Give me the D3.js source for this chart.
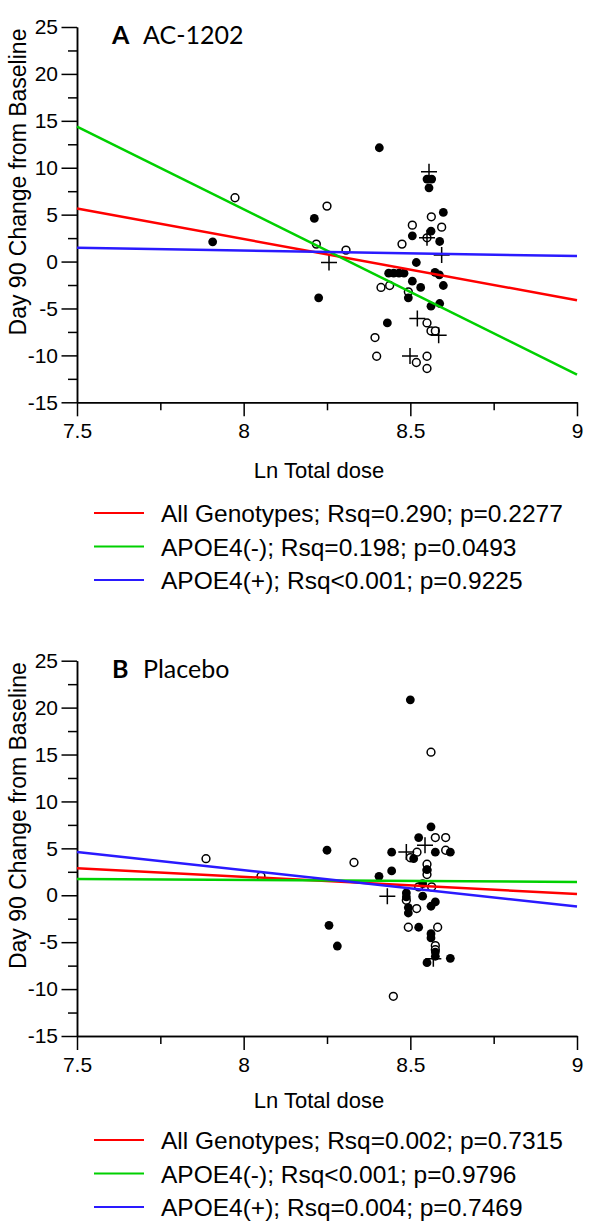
<!DOCTYPE html>
<html>
<head>
<meta charset="utf-8">
<script src="https://cdn.jsdelivr.net/npm/d3@7"></script>
<style>
	body { margin: 0; background: #fff; }
</style>
</head>
<body>
<div id="chart"></div>
<script>
// ticks
const xTicks = [7.5, 8, 8.5, 9];
const xMinor = [7.75, 8.25, 8.75];
const yTicks = [-15, -10, -5, 0, 5, 10, 15, 20, 25];
const yMinor = [-12.5, -7.5, -2.5, 2.5, 7.5, 12.5, 17.5, 22.5];

// A: AC-1202  [ln dose, change]
const acFilled = [
	[8.407, 12.13], [8.550, 8.79], [8.564, 8.79], [8.556, 7.86], [8.212, 4.60],
	[8.599, 5.24], [8.506, 2.74], [8.562, 3.24], [8.588, 2.14], [8.518, -0.10],
	[8.435, -1.24], [8.450, -1.24], [8.466, -1.24], [8.481, -1.24], [8.574, -1.16],
	[8.587, -1.42], [8.506, -2.09], [8.531, -2.76], [8.599, -2.55], [8.225, -3.87],
	[8.494, -3.87], [8.562, -4.76], [8.588, -4.47], [8.431, -6.54], [7.907, 2.10]
];
const acOpen = [
	[7.974, 6.80], [8.250, 5.91], [8.218, 1.86], [8.307, 1.22], [8.563, 4.77],
	[8.506, 3.88], [8.594, 3.67], [8.550, 2.53], [8.475, 1.86], [8.412, -2.76],
	[8.438, -2.55], [8.494, -3.23], [8.550, -6.54], [8.562, -7.39], [8.575, -7.39],
	[8.394, -8.10], [8.399, -10.09], [8.518, -10.76], [8.550, -10.09], [8.550, -11.40]
];
const acCross = [
	[8.556, 9.57], [8.256, -0.10], [8.550, 2.53], [8.594, 0.70],
	[8.521, -6.07], [8.585, -7.85], [8.499, -10.06]
];
// fitted lines, value at x = 7.5 and x = 9
const acFitAll = [5.66, -4.12];
const acFitNeg = [14.37, -12.04];
const acFitPos = [1.46, 0.58];

// B: Placebo
const plFilled = [
	[8.500, 20.83], [8.562, 7.29], [8.525, 6.15], [8.250, 4.80], [8.444, 4.59],
	[8.575, 4.59], [8.620, 4.59], [8.510, 3.90], [8.550, 2.74], [8.444, 2.59],
	[8.406, 2.02], [8.537, 1.25], [8.488, 0.25], [8.488, -0.18], [8.537, -0.10],
	[8.575, -0.71], [8.562, -1.17], [8.494, -1.31], [8.494, -1.89], [8.256, -3.20],
	[8.525, -3.41], [8.562, -4.09], [8.562, -4.55], [8.281, -5.41], [8.575, -6.05],
	[8.575, -6.50], [8.620, -6.72], [8.550, -7.18]
];
const plOpen = [
	[8.562, 15.25], [8.575, 6.15], [8.606, 6.15], [8.520, 4.59], [8.606, 4.80],
	[8.331, 3.49], [8.500, 4.00], [8.550, 3.31], [8.550, 2.67], [8.550, 2.21],
	[8.525, 0.89], [8.564, 0.89], [8.488, -0.53], [8.519, -1.42], [8.494, -3.41],
	[8.582, -3.41], [8.575, -5.37], [8.575, -5.80], [8.449, -10.77],
	[7.887, 3.90], [8.052, 2.03]
];
const plCross = [[8.544, 5.33], [8.488, 4.62], [8.431, -0.10], [8.569, -6.76]];
const plFitAll = [2.88, 0.14];
const plFitNeg = [1.74, 1.42];
const plFitPos = [4.62, -1.21];

const seriesColors = ["#ff0000", "#00d000", "#2a1aff"];
const acLegend = [
	"All Genotypes; Rsq=0.290; p=0.2277",
	"APOE4(-); Rsq=0.198; p=0.0493",
	"APOE4(+); Rsq<0.001; p=0.9225"
];
const plLegend = [
	"All Genotypes; Rsq=0.002; p=0.7315",
	"APOE4(-); Rsq<0.001; p=0.9796",
	"APOE4(+); Rsq=0.004; p=0.7469"
];

let width = 600;
let height = 1225;
let plotLeft = 77, plotRight = 577, plotH = 375.3;
let sansFont = "'Liberation Sans', Arial, sans-serif";

const svg = d3.select("#chart").append("svg")
	.attr("width", width)
	.attr("height", height);

const x = d3.scaleLinear().domain([7.5, 9]).range([plotLeft, plotRight]);

let drawPanel = function(p) {
	const y = d3.scaleLinear().domain([-15, 25]).range([p.top + plotH, p.top]);
	const g = svg.append("g");

	// y axis
	g.append("g")
		.attr("transform", `translate(${plotLeft},0)`)
		.call(d3.axisLeft(y).tickValues(yMinor).tickSize(9).tickSizeOuter(0).tickFormat(""));
	g.append("g")
		.attr("class", "yaxis")
		.attr("transform", `translate(${plotLeft},0)`)
		.call(d3.axisLeft(y).tickValues(yTicks).tickSize(15.5).tickSizeOuter(0).tickPadding(3.5).tickFormat(d => String(d)));

	// x axis
	g.append("g")
		.attr("transform", `translate(0,${y(-15)})`)
		.call(d3.axisBottom(x).tickValues(xMinor).tickSize(8).tickSizeOuter(0).tickFormat(""));
	g.append("g")
		.attr("class", "xaxis")
		.attr("transform", `translate(0,${y(-15)})`)
		.call(d3.axisBottom(x).tickValues(xTicks).tickSize(14).tickSizeOuter(0).tickPadding(7).tickFormat(d => String(d)));

	g.selectAll("path.domain, .tick line")
		.attr("stroke", "#000")
		.attr("stroke-width", 1.5);
	g.selectAll(".tick text")
		.attr("fill", "#000")
		.style("font-family", sansFont)
		.style("font-size", "21px");

	// axis titles
	g.append("text")
		.attr("transform", `translate(26,${p.top + 155}) rotate(-90)`)
		.attr("text-anchor", "middle")
		.style("font-family", sansFont)
		.style("font-size", "23px")
		.text("Day 90 Change from Baseline");
	g.append("text")
		.attr("x", 319)
		.attr("y", y(-15) + p.xTitleDy)
		.attr("text-anchor", "middle")
		.style("font-family", sansFont)
		.style("font-size", "22px")
		.text("Ln Total dose");

	// panel title
	g.append("text")
		.attr("x", 112)
		.attr("y", p.top + 17)
		.style("font-family", "Lato, 'Open Sans', sans-serif")
		.style("font-size", "25px")
		.style("font-weight", "bold")
		.text(p.letter);
	g.append("text")
		.attr("x", 143)
		.attr("y", p.top + 17)
		.style("font-family", "Lato, 'Open Sans', sans-serif")
		.style("font-size", "25px")
		.text(p.name);

	// points
	g.append("g").selectAll("circle")
		.data(p.open)
		.enter().append("circle")
			.attr("cx", d => x(d[0]))
			.attr("cy", d => y(d[1]))
			.attr("r", 3.9)
			.attr("fill", "#fff")
			.attr("stroke", "#000")
			.attr("stroke-width", 1.5);
	g.append("g").selectAll("circle")
		.data(p.filled)
		.enter().append("circle")
			.attr("cx", d => x(d[0]))
			.attr("cy", d => y(d[1]))
			.attr("r", 4.4)
			.attr("fill", "#000");
	g.append("g").selectAll("path")
		.data(p.cross)
		.enter().append("path")
			.attr("stroke", "#000")
			.attr("stroke-width", 1.5)
			.attr("fill", "none")
			.attr("d", d => `
				M${x(d[0]) - 8},${y(d[1])} H${x(d[0]) + 8}
				M${x(d[0])},${y(d[1]) - 8} V${y(d[1]) + 8}
			`);

	// regression lines
	g.append("g").selectAll("line")
		.data(p.fits)
		.enter().append("line")
			.attr("x1", x(7.5))
			.attr("x2", x(9))
			.attr("y1", d => y(d[0]))
			.attr("y2", d => y(d[1]))
			.attr("stroke", (d, i) => seriesColors[i])
			.attr("stroke-width", 2.5);

	// legend
	const leg = g.append("g").selectAll("g")
		.data(p.legend)
		.enter().append("g")
			.attr("transform", (d, i) => `translate(0,${p.legendTop + i * p.legendStep})`);
	leg.append("line")
		.attr("x1", 94).attr("x2", 144)
		.attr("stroke", (d, i) => seriesColors[i])
		.attr("stroke-width", 2.2);
	leg.append("text")
		.attr("x", 161)
		.attr("y", 9)
		.style("font-family", sansFont)
		.style("font-size", "24.5px")
		.text(d => d);
};

drawPanel({
	top: 27, letter: "A", name: "AC-1202",
	filled: acFilled, open: acOpen, cross: acCross,
	fits: [acFitAll, acFitNeg, acFitPos],
	legend: acLegend, legendTop: 513, legendStep: 33.5, xTitleDy: 76
});
drawPanel({
	top: 660.7, letter: "B", name: "Placebo",
	filled: plFilled, open: plOpen, cross: plCross,
	fits: [plFitAll, plFitNeg, plFitPos],
	legend: plLegend, legendTop: 1140, legendStep: 33.5, xTitleDy: 71.5
});
</script>
</body>
</html>
